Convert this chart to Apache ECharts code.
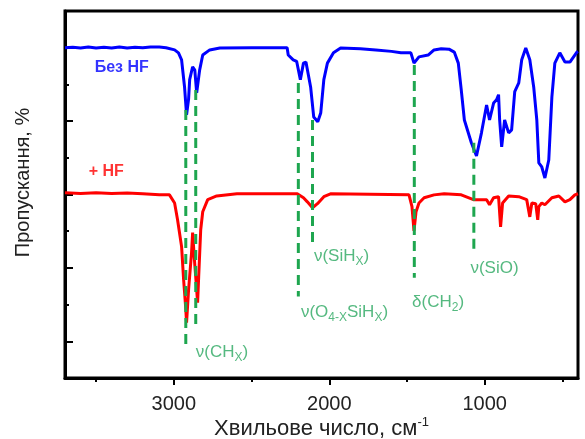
<!DOCTYPE html>
<html>
<head>
<meta charset="utf-8">
<script src="https://cdn.jsdelivr.net/npm/echarts@6/dist/echarts.min.js"></script>
<style>
  html, body { margin: 0; padding: 0; background: #fff; }
  #chart { width: 585px; height: 439px; }
</style>
</head>
<body>
<div id="chart"></div>
<script>
// spectrum without HF (blue)
const bezHfWn = [3700, 3650, 3600, 3550, 3500, 3450, 3400, 3350, 3300, 3250, 3200, 3150, 3093, 3050, 2995, 2970, 2950, 2931, 2918, 2905, 2898, 2879, 2865, 2853, 2847, 2834, 2814, 2769, 2704, 2500, 2300, 2271, 2264, 2232, 2210, 2186, 2166, 2150, 2120, 2100, 2074, 2055, 2035, 2012, 1973, 1927, 1800, 1700, 1600, 1539, 1475, 1455, 1423, 1364, 1326, 1280, 1230, 1196, 1170, 1151, 1131, 1086, 1053, 1021, 988, 969, 943, 924, 911, 904, 891, 872, 846, 827, 807, 781, 762, 736, 710, 685, 665, 652, 633, 613, 588, 568, 549, 517, 484, 452, 407, 400];
const bezHfT = [9.00, 9.01, 8.99, 9.02, 8.99, 9.01, 8.99, 9.02, 8.99, 9.01, 9.00, 9.02, 9.02, 9.00, 8.94, 8.86, 8.67, 7.93, 7.17, 7.60, 8.13, 8.48, 8.39, 7.77, 7.80, 8.39, 8.80, 8.94, 8.99, 9.00, 9.00, 9.00, 8.80, 8.67, 8.63, 8.13, 8.58, 8.61, 7.93, 7.11, 6.98, 7.22, 8.13, 8.58, 8.86, 8.99, 8.97, 8.94, 8.90, 8.86, 8.86, 8.58, 8.75, 8.80, 8.94, 8.97, 8.96, 8.88, 8.58, 7.85, 7.03, 6.41, 6.05, 6.68, 7.44, 7.03, 7.49, 7.58, 7.72, 7.03, 6.30, 7.03, 6.68, 6.76, 7.80, 8.04, 8.67, 8.99, 8.67, 7.93, 7.03, 5.86, 5.75, 5.45, 5.94, 7.66, 8.58, 8.86, 8.61, 8.61, 8.88, 8.90];

// spectrum with HF (red)
const plusHfWn = [3700, 3600, 3500, 3400, 3300, 3200, 3093, 3028, 2995, 2976, 2950, 2937, 2924, 2918, 2905, 2886, 2879, 2866, 2853, 2847, 2840, 2827, 2814, 2782, 2724, 2594, 2206, 2166, 2141, 2108, 2076, 2035, 1992, 1487, 1468, 1455, 1442, 1423, 1390, 1326, 1261, 1151, 1073, 988, 969, 943, 911, 898, 885, 846, 781, 730, 710, 697, 672, 659, 652, 633, 613, 568, 523, 484, 452, 420, 400];
const plusHfT = [5.05, 5.03, 5.05, 5.03, 5.04, 5.02, 4.99, 4.99, 4.77, 4.31, 3.58, 2.68, 1.94, 1.51, 2.41, 3.41, 3.96, 3.14, 2.41, 2.05, 2.76, 4.04, 4.53, 4.86, 4.96, 5.02, 5.02, 4.91, 4.80, 4.64, 4.75, 4.94, 5.02, 4.99, 4.67, 4.01, 4.53, 4.77, 4.91, 4.99, 5.02, 4.99, 4.86, 4.86, 4.72, 4.91, 4.94, 4.12, 4.77, 4.96, 4.94, 4.86, 4.39, 4.77, 4.75, 4.31, 4.67, 4.77, 4.72, 4.91, 4.96, 4.80, 4.86, 4.99, 5.02];

// green dashed band markers
const peakWn = [2923, 2859, 2199, 2108, 1453, 1070];
const peakTop = [7.30, 7.85, 8.04, 7.03, 8.53, 6.41];
const peakBottom = [0.77, 1.37, 2.22, 3.68, 2.73, 3.44];

// band labels
const bandText = ['ν(CH{s|X})', 'ν(SiH{s|X})', 'ν(O{s|4-X}SiH{s|X})', 'δ(CH{s|2})', 'ν(SiO)'];
const bandWn = [2690, 1921, 1902, 1300, 937];
const bandT = [0.69, 3.31, 1.78, 2.05, 3.0];

// tick values
const xMajor = [1000, 2000, 3000];
const xMinor = [500, 1500, 2500, 3500];
const yMajor = [1, 3, 5, 7, 9];
const yMinor = [2, 4, 6, 8];

const FONT = 'Liberation Sans, Arial, sans-serif';
const GREEN = '#1ea64f';

let chart = echarts.init(document.getElementById('chart'));

let zip = (xs, ys) => xs.map((x, i) => [x, ys[i]]);

let peakSeries = peakWn.map((w, i) => ({
  type: 'line',
  data: [[w, peakTop[i]], [w, peakBottom[i]]],
  showSymbol: false,
  silent: true,
  z: 5,
  lineStyle: { color: GREEN, width: 3, type: [10, 6] },
}));

chart.setOption({
  animation: false,
  grid: {
    left: 65,
    right: 7,
    top: 11,
    bottom: 61,
    outerBoundsMode: 'none',
    show: true,
    borderColor: '#000',
    borderWidth: 3,
  },
  xAxis: [
    {
      type: 'value',
      inverse: true,
      min: 400,
      max: 3700,
      position: 'bottom',
      axisLine: { lineStyle: { color: '#000', width: 3 } },
      axisTick: { customValues: xMajor, length: 7, lineStyle: { color: '#000', width: 2 } },
      axisLabel: {
        customValues: xMajor,
        formatter: (v) => String(v),
        color: '#222',
        fontSize: 20,
        fontFamily: FONT,
        margin: 16,
      },
      splitLine: { show: false },
      name: '{a|Хвильове число, см}{s|-1}',
      nameLocation: 'middle',
      nameGap: 38,
      nameMoveOverlap: false,
      nameTextStyle: {
        rich: {
          a: { fontSize: 22, color: '#222', fontFamily: FONT },
          s: { fontSize: 13, color: '#222', fontFamily: FONT, padding: [0, 0, 12, 0] },
        },
      },
    },
    {
      type: 'value',
      inverse: true,
      min: 400,
      max: 3700,
      position: 'bottom',
      axisLine: { show: false },
      axisTick: { customValues: xMinor, length: 4, lineStyle: { color: '#000', width: 2 } },
      axisLabel: { show: false },
      splitLine: { show: false },
    },
  ],
  yAxis: [
    {
      type: 'value',
      min: 0,
      max: 10,
      position: 'left',
      axisLine: { show: true, lineStyle: { color: '#000', width: 3 } },
      axisTick: { show: true, inside: true, customValues: yMajor, length: 8, lineStyle: { color: '#000', width: 2 } },
      axisLabel: { show: false },
      splitLine: { show: false },
      name: 'Пропускання, %',
      nameLocation: 'middle',
      nameGap: 32,
      nameMoveOverlap: false,
      nameTextStyle: { fontSize: 20, color: '#222', fontFamily: FONT, padding: [0, 0, 0, 24] },
    },
    {
      type: 'value',
      min: 0,
      max: 10,
      position: 'left',
      axisLine: { show: false },
      axisTick: { show: true, inside: true, customValues: yMinor, length: 4, lineStyle: { color: '#000', width: 2 } },
      axisLabel: { show: false },
      splitLine: { show: false },
    },
  ],
  series: [
    {
      name: 'Без HF',
      type: 'line',
      data: zip(bezHfWn, bezHfT),
      showSymbol: false,
      lineStyle: { color: '#0000ff', width: 3 },
      z: 3,
    },
    {
      name: '+ HF',
      type: 'line',
      data: zip(plusHfWn, plusHfT),
      showSymbol: false,
      lineStyle: { color: '#ff0000', width: 3 },
      z: 3,
    },
    ...peakSeries,
    {
      type: 'scatter',
      symbolSize: 0,
      silent: true,
      z: 6,
      data: bandText.map((t, i) => ({ value: [bandWn[i], bandT[i]], name: t })),
      label: {
        show: true,
        position: 'inside',
        formatter: (p) => p.name,
        color: '#2aa860',
        fontSize: 17,
        fontFamily: FONT,
        rich: {
          s: { fontSize: 12, color: '#2aa860', fontFamily: FONT, padding: [10, 0, 0, 0] },
        },
      },
    },
    {
      type: 'scatter',
      symbolSize: 0,
      silent: true,
      z: 6,
      data: [
        { value: [3335, 8.45], name: 'Без HF', label: { color: '#0000ff' } },
        { value: [3435, 5.62], name: '+ HF', label: { color: '#ff0000' } },
      ],
      label: {
        show: true,
        position: 'inside',
        formatter: (p) => p.name,
        fontSize: 16,
        fontWeight: 'bold',
        fontFamily: FONT,
      },
    },
  ],
});
</script>
</body>
</html>
